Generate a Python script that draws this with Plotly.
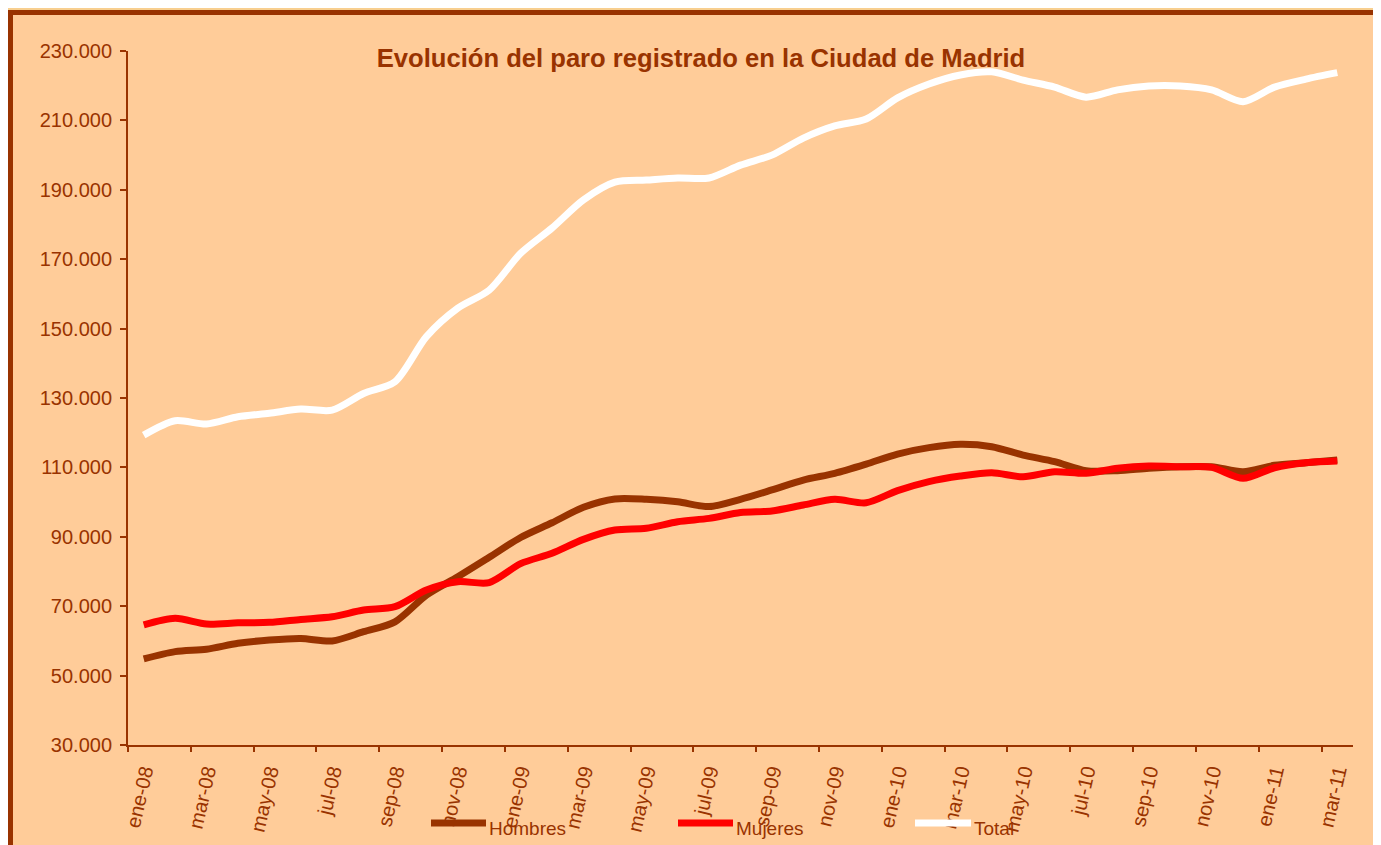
import plotly.graph_objects as go

months = ["ene-08","feb-08","mar-08","abr-08","may-08","jun-08","jul-08","ago-08","sep-08","oct-08","nov-08","dic-08",
          "ene-09","feb-09","mar-09","abr-09","may-09","jun-09","jul-09","ago-09","sep-09","oct-09","nov-09","dic-09",
          "ene-10","feb-10","mar-10","abr-10","may-10","jun-10","jul-10","ago-10","sep-10","oct-10","nov-10","dic-10",
          "ene-11","feb-11","mar-11"]

hombres = [54800, 56900, 57600, 59300, 60250, 60700, 60000, 62650, 65500, 73200, 78500, 84100,
           89800, 94050, 98500, 100900, 100800, 100100, 98700, 100800, 103500, 106350, 108300, 110950,
           113850, 115700, 116650, 115950, 113550, 111650, 109050, 109050, 109750, 110200, 110200, 108750,
           110600, 111350, 112150]

mujeres = [64600, 66500, 64860, 65200, 65350, 66200, 66950, 68900, 69850, 74650, 77050, 76800,
           82250, 85250, 89260, 91950, 92450, 94350, 95300, 97000, 97430, 99150, 100800, 99800,
           103300, 105900, 107500, 108450, 107300, 108750, 108300, 109750, 110400, 110200, 110000, 106850,
           109900, 111350, 111850]

total = [119300, 123450, 122500, 124600, 125600, 126800, 126500, 131300, 134700, 147700, 155900, 161100,
         171700, 179000, 187100, 192200, 192800, 193400, 193400, 197100, 200000, 204900, 208400, 210400,
         216500, 220500, 223100, 224000, 221600, 219600, 216700, 218800, 219900, 219900, 218800, 215400,
         219600, 221900, 223750]

series_names = ["Hombres", "Mujeres", "Total"]
series_colors = ["#993300", "#FF0000", "#FFFFFF"]

y_ticks = [30000, 50000, 70000, 90000, 110000, 130000, 150000, 170000, 190000, 210000, 230000]
y_ticktext = ["30.000", "50.000", "70.000", "90.000", "110.000", "130.000", "150.000",
              "170.000", "190.000", "210.000", "230.000"]

title_text = "Evolución del paro registrado en la Ciudad de Madrid"

BROWN = "#993300"
FONT = "Liberation Sans, Arial, sans-serif"

x_idx = list(range(len(months)))
label_idx = x_idx[::2]
label_txt = [months[i] for i in label_idx]
boundary_ticks = [i - 0.5 for i in label_idx]

fig = go.Figure()
for name, vals, col in zip(series_names, [hombres, mujeres, total], series_colors):
    fig.add_trace(go.Scatter(x=x_idx, y=vals, mode="lines", name=name,
                             line=dict(color=col, width=7, shape="spline", smoothing=0.8),
                             showlegend=False))
# invisible helper on the boundary-tick axis
fig.add_trace(go.Scatter(x=[0], y=[30000], xaxis="x2", mode="markers",
                         marker=dict(opacity=0), showlegend=False, hoverinfo="skip"))

W, H = 1381, 845
OFF = 8  # page body margin
# plot area in page pixels
PL, PR, PT, PB = 128, 1353, 51, 745
L, R, T, B = PL - OFF, W - (PR - OFF), PT - OFF, H - (PB - OFF)
pw, ph = PR - PL, PB - PT

def px_x(px):
    return (px - PL) / pw

def px_y(py):
    return (PB - py) / ph

shapes = [
    dict(type="rect", xref="paper", yref="paper",
         x0=px_x(10.5), x1=px_x(1420), y0=px_y(880), y1=px_y(12.5),
         fillcolor="#FFCC99", line=dict(color=BROWN, width=5), layer="below"),
]
annotations = []
legend_pos = [(431, 486, 487), (678, 733, 734), (915, 971, 972)]
for (lx0, lx1, tx), name, col in zip(legend_pos, series_names, series_colors):
    shapes.append(dict(type="line", xref="paper", yref="paper",
                       x0=px_x(lx0), x1=px_x(lx1), y0=px_y(823), y1=px_y(823),
                       line=dict(color=col, width=7), layer="above"))
    annotations.append(dict(text=name, xref="paper", yref="paper", x=px_x(tx), y=px_y(828),
                            xanchor="left", yanchor="middle", showarrow=False,
                            font=dict(family=FONT, size=19, color=BROWN)))

fig.update_layout(
    width=W, height=H,
    margin=dict(l=L, r=R, t=T, b=B, autoexpand=False),
    paper_bgcolor="#F8CF8F",
    plot_bgcolor="rgba(0,0,0,0)",
    template="none",
    showlegend=False,
    title=dict(text="<b>" + title_text + "</b>", x=px_x(701), xref="paper", xanchor="center",
               y=1 - (58 - OFF) / H, yref="container", yanchor="middle",
               font=dict(family=FONT, size=25.6, color=BROWN)),
    xaxis=dict(range=[-0.5, len(months) - 0.5], tickmode="array", tickvals=label_idx, ticktext=label_txt,
               tickangle=-77, ticks="", showgrid=False, zeroline=False, showline=True,
               linecolor=BROWN, linewidth=2, automargin=False, ticklabelstandoff=5,
               tickfont=dict(family=FONT, size=20, color=BROWN)),
    xaxis2=dict(range=[-0.5, len(months) - 0.5], overlaying="x", anchor="y", side="bottom",
                tickmode="array", tickvals=boundary_ticks, showticklabels=False,
                ticks="outside", ticklen=6, tickwidth=2, tickcolor=BROWN,
                showgrid=False, zeroline=False, showline=False, automargin=False),
    yaxis=dict(range=[30000, 230000], tickmode="array", tickvals=y_ticks, ticktext=y_ticktext,
               ticks="outside", ticklen=6, tickwidth=2, tickcolor=BROWN, showgrid=False,
               zeroline=False, showline=True, linecolor=BROWN, linewidth=2, automargin=False,
               ticklabelstandoff=4,
               tickfont=dict(family=FONT, size=20, color=BROWN)),
    shapes=shapes,
    annotations=annotations,
)

fig.write_html("out.html")
